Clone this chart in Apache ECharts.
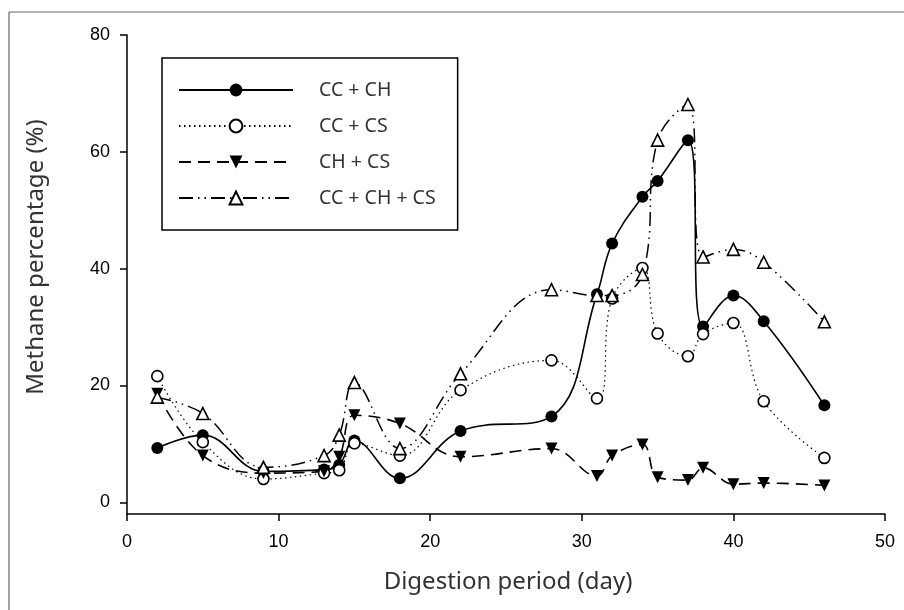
<!DOCTYPE html>
<html>
<head>
<meta charset="utf-8">
<script src="https://cdn.jsdelivr.net/npm/echarts@6/dist/echarts.min.js"></script>
<style>
html,body{margin:0;padding:0;background:#fff;}
#chart{width:904px;height:610px;}
</style>
</head>
<body>
<div id="chart"></div>
<script>
// ---- data ----
const seriesNames = ['CC + CH', 'CC + CS', 'CH + CS', 'CC + CH + CS'];
const days = [2, 5, 9, 13, 14, 15, 18, 22, 28, 31, 32, 34, 35, 37, 38, 40, 42, 46];
const ccCh   = [9.3, 11.5, 5.3, 5.6, 6.4, 10.6, 4.1, 12.2, 14.7, 35.6, 44.3, 52.3, 55.0, 62.0, 30.1, 35.4, 31.0, 16.6];
const ccCs   = [21.6, 10.3, 4.0, 5.0, 5.5, 10.1, 8.0, 19.2, 24.3, 17.8, 34.9, 40.1, 28.9, 25.0, 28.8, 30.7, 17.3, 7.6];
const chCs   = [18.6, 8.0, 5.0, 5.3, 7.8, 14.9, 13.5, 7.8, 9.2, 4.5, 8.0, 9.9, 4.3, 3.8, 5.9, 3.1, 3.3, 2.9];
const ccChCs = [18.0, 15.2, 6.0, 8.0, 11.5, 20.5, 9.2, 22.0, 36.4, 35.4, 35.4, 39.0, 62.0, 68.1, 42.0, 43.3, 41.1, 30.9];
const xTicks = [0, 10, 20, 30, 40, 50];
const yTicks = [0, 20, 40, 60, 80];
const xTitle = 'Digestion period (day)';
const yTitle = 'Methane percentage (%)';

function pairs(xs, ys) { return xs.map((x, i) => [x, ys[i]]); }

const chart = echarts.init(document.getElementById('chart'), null, {renderer: 'canvas'});
const titleFont = 'Noto Sans';
const tickFont = 'Liberation Sans';

const option = {
  animation: false,
  backgroundColor: '#fff',
  grid: {left: 127, right: 19, top: 35, bottom: 96, containLabel: false},
  xAxis: {
    type: 'value', min: 0, max: 50,
    axisLine: {show: true, onZero: false, lineStyle: {color: '#000', width: 1.5}},
    axisTick: {show: true, length: 7, inside: false, customValues: xTicks, lineStyle: {color: '#000', width: 1.5}},
    axisLabel: {customValues: xTicks, margin: 19, fontFamily: tickFont, fontSize: 18, color: '#000'},
    splitLine: {show: false}
  },
  yAxis: {
    type: 'value', min: -2, max: 80,
    axisLine: {show: true, onZero: false, lineStyle: {color: '#000', width: 1.5}},
    axisTick: {show: true, length: 7, inside: false, customValues: yTicks, lineStyle: {color: '#000', width: 1.5}},
    axisLabel: {customValues: yTicks, margin: 17, fontFamily: tickFont, fontSize: 18, color: '#000'},
    splitLine: {show: false}
  },
  legend: {
    orient: 'vertical', left: 162, top: 58,
    itemWidth: 114, itemHeight: 16, itemGap: 16,
    padding: [22, 22, 22, 16],
    borderColor: '#000', borderWidth: 1.5,
    textStyle: {fontFamily: titleFont, fontSize: 19.5, lineHeight: 20, color: '#333', padding: [0, 0, 0, 21]},
    data: seriesNames
  },
  series: [
    {
      name: seriesNames[0], type: 'line', smooth: 0.4,
      data: pairs(days, ccCh),
      symbol: 'circle', symbolSize: 12,
      itemStyle: {color: '#000'},
      lineStyle: {color: '#000', width: 1.6, type: 'solid'}
    },
    {
      name: seriesNames[1], type: 'line', smooth: 0.4,
      data: pairs(days, ccCs),
      symbol: 'circle', symbolSize: 11,
      itemStyle: {color: '#fff', borderColor: '#000', borderWidth: 1.6},
      lineStyle: {color: '#000', width: 1.2, type: [1.5, 3.5]}
    },
    {
      name: seriesNames[2], type: 'line', smooth: 0.4,
      data: pairs(days, chCs),
      symbol: 'triangle', symbolRotate: 180, symbolSize: 12,
      itemStyle: {color: '#000'},
      lineStyle: {color: '#000', width: 1.6, type: [12, 7]}
    },
    {
      name: seriesNames[3], type: 'line', smooth: 0.4,
      data: pairs(days, ccChCs),
      symbol: 'triangle', symbolSize: 12,
      itemStyle: {color: '#fff', borderColor: '#000', borderWidth: 1.6},
      lineStyle: {color: '#000', width: 1.5, type: [14, 5, 1.5, 5, 1.5, 5]}
    }
  ],
  graphic: [
    {type: 'line', shape: {x1: 9, y1: 12, x2: 904, y2: 12}, style: {stroke: '#666', lineWidth: 1.2}, silent: true},
    {type: 'line', shape: {x1: 9, y1: 12, x2: 9, y2: 610}, style: {stroke: '#666', lineWidth: 1.2}, silent: true},
    {type: 'text', x: 508, y: 582, style: {text: xTitle, font: '24px "Noto Sans"', fill: '#333', textAlign: 'center', textVerticalAlign: 'middle'}},
    {type: 'text', x: 36, y: 257, rotation: Math.PI / 2, style: {text: yTitle, font: '24px "Noto Sans"', fill: '#333', textAlign: 'center', textVerticalAlign: 'middle'}}
  ]
};
chart.setOption(option);
</script>
</body>
</html>
